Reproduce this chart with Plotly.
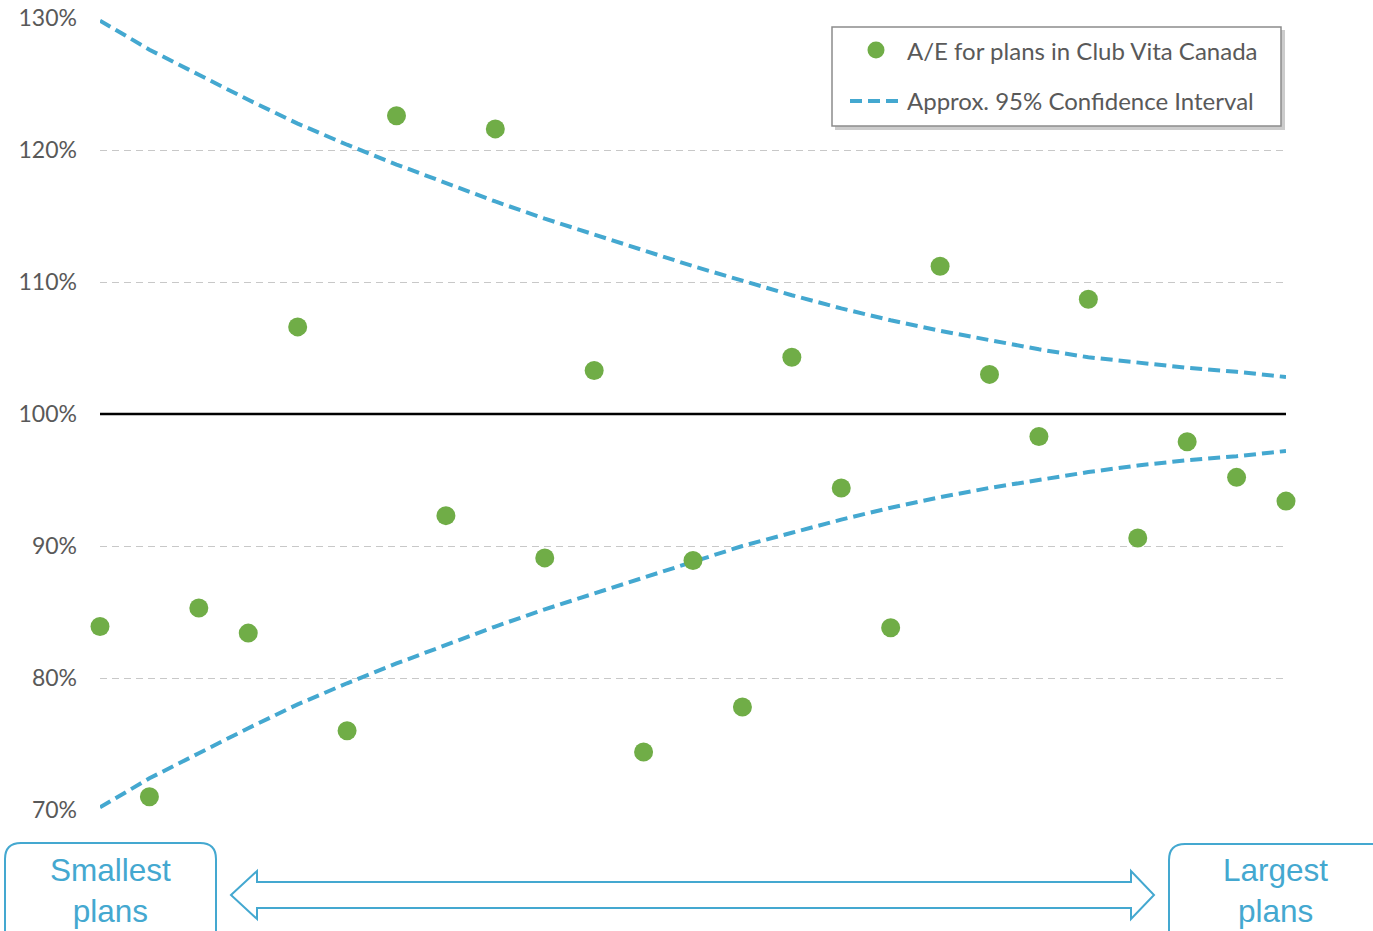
import plotly.graph_objects as go

# ---- data ----
plan_index = list(range(25))
ae_values = [83.9, 71.0, 85.3, 83.4, 106.6, 76.0, 122.6, 92.3, 121.6, 89.1,
             103.3, 74.4, 88.9, 77.8, 104.3, 94.4, 83.8, 111.2, 103.0, 98.3,
             108.7, 90.6, 97.9, 95.2, 93.4]
ci_upper = [129.8, 127.6, 125.7, 123.8, 122.0, 120.4, 118.9, 117.5, 116.1, 114.8,
            113.6, 112.4, 111.2, 110.1, 109.0, 108.0, 107.1, 106.3, 105.6, 104.9,
            104.3, 103.9, 103.5, 103.2, 102.8]
ci_lower = [70.2, 72.4, 74.3, 76.2, 78.0, 79.6, 81.1, 82.5, 83.9, 85.2,
            86.4, 87.6, 88.8, 90.0, 91.0, 92.0, 92.9, 93.7, 94.4, 95.0,
            95.6, 96.1, 96.5, 96.8, 97.2]
y_ticks = [70, 80, 90, 100, 110, 120, 130]
y_tick_text = ["70%", "80%", "90%", "100%", "110%", "120%", "130%"]
legend_names = ["A/E for plans in Club Vita Canada", "Approx. 95% Confidence Interval"]
left_label = "Smallest<br>plans"
right_label = "Largest<br>plans"

GREEN = "#70AD47"
BLUE = "#44A8D0"
TXT = "#595959"
FONT = "Lato, Open Sans, sans-serif"

W, H = 1373, 931
ML, MR, MT, MB = 100, 87, 18, 121
PW, PH = W - ML - MR, H - MT - MB


def px(x):
    return (x - ML) / PW


def py(y):
    return (H - MB - y) / PH


fig = go.Figure()
fig.add_trace(go.Scatter(
    x=plan_index, y=ci_upper, mode="lines", name=legend_names[1],
    line=dict(color=BLUE, width=4, dash="12px,6px"), cliponaxis=False))
fig.add_trace(go.Scatter(
    x=plan_index, y=ci_lower, mode="lines", name=legend_names[1],
    line=dict(color=BLUE, width=4, dash="12px,6px"), cliponaxis=False))
fig.add_trace(go.Scatter(
    x=plan_index, y=ae_values, mode="markers", name=legend_names[0],
    marker=dict(color=GREEN, size=19), cliponaxis=False))

shapes = []
# 100% reference line
shapes.append(dict(type="line", xref="paper", yref="y", x0=0, x1=1, y0=100, y1=100,
                   line=dict(color="black", width=2.5), layer="above"))

# legend box (shadow, frame, symbols)
shapes.append(dict(type="rect", xref="paper", yref="paper",
                   x0=px(835), x1=px(1285), y0=py(130), y1=py(30),
                   line=dict(width=0), fillcolor="rgba(110,110,110,0.35)", layer="above"))
shapes.append(dict(type="rect", xref="paper", yref="paper",
                   x0=px(832), x1=px(1281), y0=py(126), y1=py(27),
                   line=dict(color="#8C8C8C", width=1.5), fillcolor="white", layer="above"))
shapes.append(dict(type="circle", xref="paper", yref="paper",
                   x0=px(867.5), x1=px(884.5), y0=py(58.5), y1=py(41.5),
                   line=dict(width=0), fillcolor=GREEN, layer="above"))
shapes.append(dict(type="line", xref="paper", yref="paper",
                   x0=px(850), x1=px(901), y0=py(101), y1=py(101),
                   line=dict(color=BLUE, width=4, dash="12px,6px"), layer="above"))


def rounded_box(x0, y0, x1, y1, r):
    return (f"M {px(x0 + r)} {py(y0)} L {px(x1 - r)} {py(y0)} "
            f"Q {px(x1)} {py(y0)} {px(x1)} {py(y0 + r)} L {px(x1)} {py(y1 - r)} "
            f"Q {px(x1)} {py(y1)} {px(x1 - r)} {py(y1)} L {px(x0 + r)} {py(y1)} "
            f"Q {px(x0)} {py(y1)} {px(x0)} {py(y1 - r)} L {px(x0)} {py(y0 + r)} "
            f"Q {px(x0)} {py(y0)} {px(x0 + r)} {py(y0)} Z")


shapes.append(dict(type="path", xref="paper", yref="paper",
                   path=rounded_box(5, 843, 216, 960, 16),
                   line=dict(color=BLUE, width=2), fillcolor="white", layer="above"))
shapes.append(dict(type="path", xref="paper", yref="paper",
                   path=rounded_box(1169, 844, 1400, 960, 16),
                   line=dict(color=BLUE, width=2), fillcolor="white", layer="above"))

# double-headed arrow outline
pts = [(231, 895), (257, 871), (257, 882), (1131, 882), (1131, 871), (1154, 895),
       (1131, 919), (1131, 908), (257, 908), (257, 919)]
arrow = "M " + " L ".join(f"{px(a)} {py(b)}" for a, b in pts) + " Z"
shapes.append(dict(type="path", xref="paper", yref="paper", path=arrow,
                   line=dict(color=BLUE, width=2), fillcolor="white", layer="above"))

annotations = [
    dict(xref="paper", yref="paper", x=px(905), y=py(50), text=legend_names[0],
         showarrow=False, font=dict(family=FONT, size=24, color=TXT),
         xanchor="left", yanchor="middle"),
    dict(xref="paper", yref="paper", x=px(905), y=py(101), text=legend_names[1],
         showarrow=False, font=dict(family=FONT, size=24, color=TXT),
         xanchor="left", yanchor="middle"),
    dict(xref="paper", yref="paper", x=px(110), y=py(890), text=left_label,
         showarrow=False, font=dict(family="Liberation Sans, Arial", size=31.5, color=BLUE),
         xanchor="center", yanchor="middle", align="center"),
    dict(xref="paper", yref="paper", x=px(1275), y=py(890), text=right_label,
         showarrow=False, font=dict(family="Liberation Sans, Arial", size=31.5, color=BLUE),
         xanchor="center", yanchor="middle", align="center"),
]

fig.update_layout(
    width=W, height=H,
    margin=dict(l=ML, r=MR, t=MT, b=MB, autoexpand=False),
    paper_bgcolor="white", plot_bgcolor="white",
    font=dict(family=FONT, color=TXT),
    showlegend=False,
    xaxis=dict(range=[0, 24], showgrid=False, showticklabels=False, zeroline=False,
               showline=False, ticks="", automargin=False),
    yaxis=dict(range=[70, 130], tickvals=y_ticks, ticktext=y_tick_text,
               showgrid=True, gridcolor="#C8C8C8", gridwidth=1.3, griddash="7px,5px",
               zeroline=False, showline=False, ticks="", automargin=False,
               tickfont=dict(size=23, color=TXT, family=FONT), ticklabelstandoff=22),
    shapes=shapes, annotations=annotations,
)

fig.write_html("out.html", config={"displayModeBar": False},
               post_script="document.body.style.margin='0px';")
